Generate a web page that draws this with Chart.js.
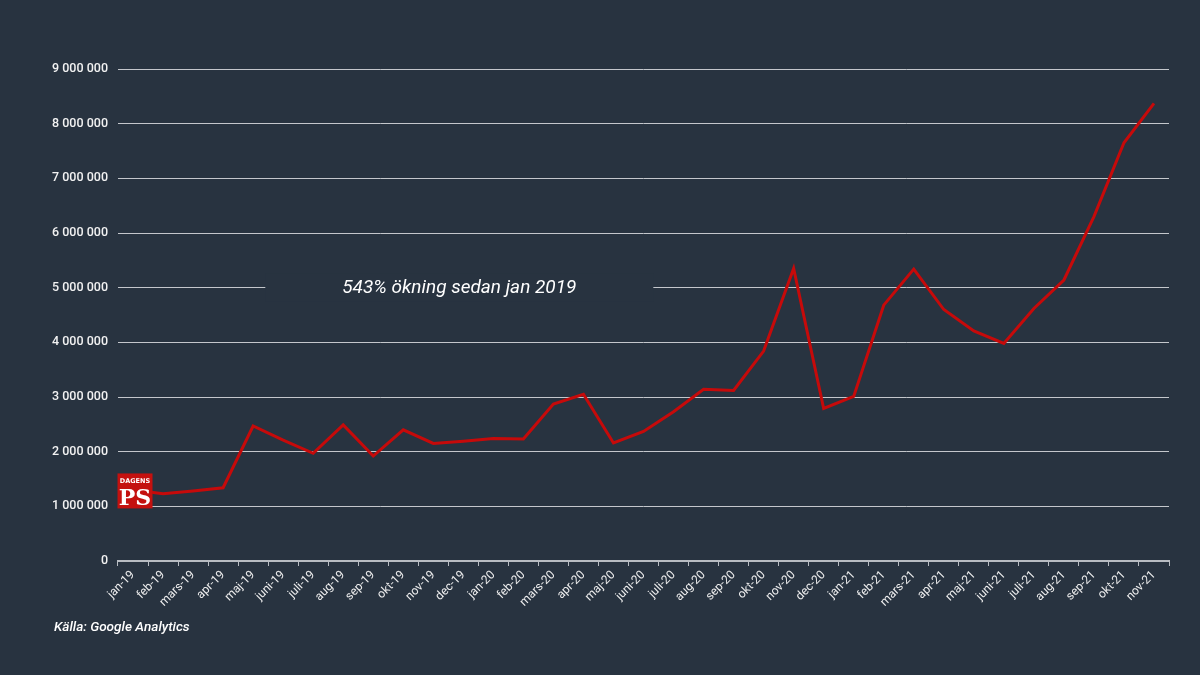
<!DOCTYPE html>
<html>
<head>
<meta charset="utf-8">
<script src="https://cdn.jsdelivr.net/npm/chart.js@4.4.1/dist/chart.umd.min.js"></script>
<style>
  html, body { margin: 0; padding: 0; background: #283340; }
  #wrap { width: 1200px; height: 675px; position: relative; }
</style>
</head>
<body>
<div id="wrap"><canvas id="c" width="1200" height="675"></canvas></div>
<script>
const categories = ["jan-19","feb-19","mars-19","apr-19","maj-19","juni-19","juli-19","aug-19","sep-19","okt-19","nov-19","dec-19",
  "jan-20","feb-20","mars-20","apr-20","maj-20","juni-20","juli-20","aug-20","sep-20","okt-20","nov-20","dec-20",
  "jan-21","feb-21","mars-21","apr-21","maj-21","juni-21","juli-21","aug-21","sep-21","okt-21","nov-21"];
const visitors = [1300000,1230000,1280000,1340000,2470000,2210000,1970000,2490000,1920000,2400000,2150000,2190000,
  2240000,2230000,2870000,3050000,2160000,2370000,2730000,3140000,3120000,3840000,5350000,2790000,
  3010000,4680000,5340000,4600000,4210000,3980000,4620000,5140000,6300000,7650000,8370000];
const yTicks = [0,1000000,2000000,3000000,4000000,5000000,6000000,7000000,8000000,9000000];
const annotationText = "543% ökning sedan jan 2019";
const sourceText = "Källa: Google Analytics";

const BG = '#283340';

function fmt(v) {
  return String(v).replace(/\B(?=(\d{3})+(?!\d))/g, ' ');
}

const overlay = {
  id: 'overlay',
  afterDatasetsDraw(chart) {
    const ctx = chart.ctx;
    const ys = chart.scales.y;
    const xs = chart.scales.x;
    // annotation box + text
    const ty = ys.getPixelForValue(5000000);
    const cx = (xs.getPixelForValue(4) + xs.getPixelForValue(17)) / 2 + 11;
    ctx.save();
    ctx.fillStyle = BG;
    ctx.fillRect(cx - 194, ty - 14, 388, 28);
    ctx.font = 'italic 400 19px Roboto';
    ctx.fillStyle = '#ffffff';
    ctx.textAlign = 'center';
    ctx.textBaseline = 'middle';
    ctx.fillText(annotationText, cx, ty + 1);
    ctx.restore();

    // logo at first point
    const p = chart.getDatasetMeta(0).data[0];
    const lx = p.x + 2, ly = p.y + 1;
    ctx.save();
    ctx.fillStyle = '#c4110f';
    ctx.fillRect(lx - 17.5, ly - 17.5, 35, 35);
    ctx.fillStyle = '#ffffff';
    ctx.textAlign = 'center';
    ctx.textBaseline = 'alphabetic';
    ctx.font = 'bold 6.5px "DejaVu Sans"';
    ctx.fillText('DAGENS', lx, ly - 8);
    ctx.font = 'bold 22px "DejaVu Serif"';
    ctx.fillText('PS', lx, ly + 14);
    ctx.restore();
  },
  afterDraw(chart) {
    const ctx = chart.ctx;
    ctx.save();
    ctx.font = 'italic 500 13.6px Roboto';
    ctx.fillStyle = '#ffffff';
    ctx.textAlign = 'left';
    ctx.textBaseline = 'middle';
    ctx.fillText(sourceText, 54, 628);
    ctx.restore();
  }
};

new Chart(document.getElementById('c'), {
  type: 'line',
  data: {
    labels: categories,
    datasets: [{
      data: visitors,
      borderColor: '#c60a0a',
      borderWidth: 3,
      pointRadius: 0,
      tension: 0,
      fill: false
    }]
  },
  options: {
    responsive: false,
    animation: false,
    plugins: { legend: { display: false }, tooltip: { enabled: false } },
    layout: { padding: { left: 0, right: 31, top: 69, bottom: 0 } },
    scales: {
      x: {
        offset: true,
        grid: {
          offset: true,
          drawOnChartArea: false,
          drawTicks: true,
          tickLength: 5,
          color: '#b8bcc2',
          lineWidth: 1
        },
        border: { display: true, color: '#b8bcc2', width: 2 },
        ticks: {
          color: '#eeeeee',
          font: { family: 'Roboto', size: 12 },
          minRotation: 45,
          maxRotation: 45,
          autoSkip: false,
          padding: 2
        },
        afterFit(scale) { scale.height = 114; }
      },
      y: {
        min: 0,
        max: 9000000,
        afterBuildTicks(scale) { scale.ticks = yTicks.map(v => ({ value: v })); },
        grid: {
          drawTicks: false,
          color: (c) => c.index === 0 ? 'rgba(0,0,0,0)' : '#c4c7cc',
          lineWidth: 1
        },
        border: { display: false },
        ticks: {
          color: '#f2f2f2',
          font: { family: 'Roboto', size: 12.5, weight: '500' },
          padding: 10,
          callback: (v) => fmt(v)
        },
        afterFit(scale) { scale.width = 118; }
      }
    }
  },
  plugins: [overlay]
});
</script>
</body>
</html>
